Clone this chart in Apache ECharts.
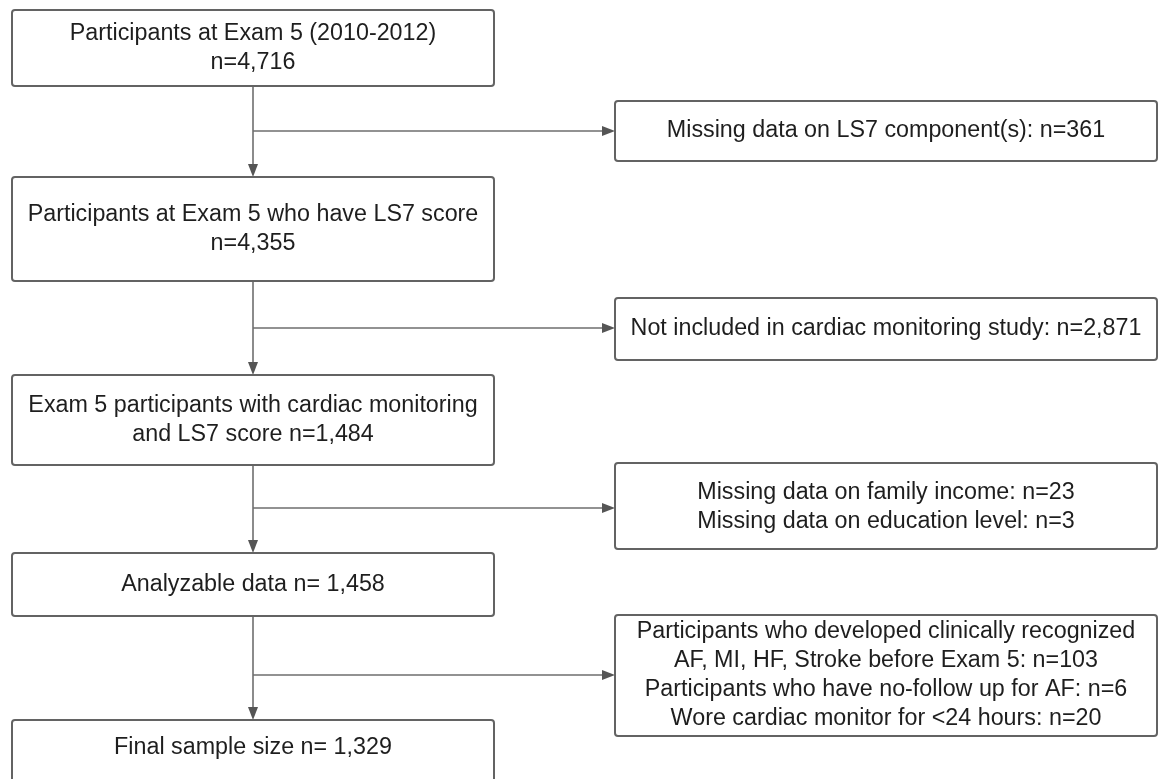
<!DOCTYPE html>
<html>
<head>
<meta charset="utf-8">
<script src="https://cdn.jsdelivr.net/npm/echarts@6/dist/echarts.min.js"></script>
<style>
html,body{margin:0;padding:0;background:#fff;}
#chart{width:1158px;height:779px;}
</style>
</head>
<body>
<div id="chart"></div>
<script>
// ---- content (texts of the flow diagram) ----
const stepTexts = [
  'Participants at Exam 5 (2010-2012)\nn=4,716',
  'Participants at Exam 5 who have LS7 score\nn=4,355',
  'Exam 5 participants with cardiac monitoring\nand LS7 score n=1,484',
  'Analyzable data n= 1,458',
  'Final sample size n= 1,329'
];
const exclusionTexts = [
  'Missing data on LS7 component(s): n=361',
  'Not included in cardiac monitoring study: n=2,871',
  'Missing data on family income: n=23\nMissing data on education level: n=3',
  'Participants who developed clinically recognized\nAF, MI, HF, Stroke before Exam 5: n=103\nParticipants who have no-follow up for AF: n=6\nWore cardiac monitor for <24 hours: n=20'
];

// ---- layout (diagram coordinates, separate from content) ----
const stepBoxes = [      // [x0, y0, x1, y1, textCenterY]
  [12, 10, 494, 86, 48],
  [12, 177, 494, 281, 229],
  [12, 375, 494, 465, 420],
  [12, 553, 494, 616, 585],
  [12, 720, 494, 800, 748]
];
const exclusionBoxes = [
  [615, 101, 1157, 161, 131],
  [615, 298, 1157, 360, 329],
  [615, 463, 1157, 549, 507.5],
  [615, 615, 1157, 736, 675.5]
];
const trunkX = 253;
const branchY = [131, 328, 508, 675];

// connectors: [x1, y1, x2, y2] (arrow at end)
const connectors = [];
for (let i = 0; i < stepBoxes.length - 1; i++) {
  connectors.push([trunkX, stepBoxes[i][3], trunkX, stepBoxes[i + 1][1]]);
  connectors.push([trunkX, branchY[i], exclusionBoxes[i][0], branchY[i]]);
}

const FONT = '23.3px "Liberation Sans", Arial, sans-serif';
const boxItems = stepBoxes.map((b, i) => ({ box: b, text: stepTexts[i] }))
  .concat(exclusionBoxes.map((b, i) => ({ box: b, text: exclusionTexts[i] })));

const chart = echarts.init(document.getElementById('chart'), null, { renderer: 'canvas' });

function renderBox(params, api) {
  const item = boxItems[params.dataIndex];
  const b = item.box;
  const p0 = api.coord([b[0], b[1]]);
  const p1 = api.coord([b[2], b[3]]);
  const pc = api.coord([(b[0] + b[2]) / 2, b[4]]);
  return {
    type: 'group',
    children: [
      {
        type: 'rect',
        shape: { x: p0[0], y: p0[1], width: p1[0] - p0[0], height: p1[1] - p0[1], r: 3 },
        style: { fill: '#ffffff', stroke: '#636363', lineWidth: 2 }
      },
      {
        type: 'text',
        style: {
          text: item.text, x: pc[0], y: pc[1],
          align: 'center', verticalAlign: 'middle',
          font: FONT, lineHeight: 29, fill: '#1e1e1e'
        }
      }
    ]
  };
}

function renderConnector(params, api) {
  const c = connectors[params.dataIndex];
  const a = api.coord([c[0], c[1]]);
  const b = api.coord([c[2], c[3]]);
  const dx = b[0] - a[0], dy = b[1] - a[1];
  const len = Math.sqrt(dx * dx + dy * dy);
  const ux = dx / len, uy = dy / len;
  const L = 13, W = 5;
  const base = [b[0] - ux * L, b[1] - uy * L];
  return {
    type: 'group',
    children: [
      {
        type: 'line',
        shape: { x1: a[0], y1: a[1], x2: base[0] + ux, y2: base[1] + uy },
        style: { stroke: '#6e6e6e', lineWidth: 1.6 }
      },
      {
        type: 'polygon',
        shape: { points: [[b[0], b[1]], [base[0] - uy * W, base[1] + ux * W], [base[0] + uy * W, base[1] - ux * W]] },
        style: { fill: '#555555' }
      }
    ]
  };
}

chart.setOption({
  animation: false,
  backgroundColor: '#ffffff',
  grid: { left: 0, right: 0, top: 0, bottom: 0 },
  xAxis: { type: 'value', min: 0, max: 1158, show: false },
  yAxis: { type: 'value', min: 0, max: 779, inverse: true, show: false },
  series: [
    {
      type: 'custom', name: 'connectors', clip: false, silent: true,
      renderItem: renderConnector,
      data: connectors.map(c => [c[0], c[1], c[2], c[3]])
    },
    {
      type: 'custom', name: 'boxes', clip: false, silent: true,
      renderItem: renderBox,
      data: boxItems.map(it => [it.box[0], it.box[1], it.box[2], it.box[3]])
    }
  ]
});
</script>
</body>
</html>
